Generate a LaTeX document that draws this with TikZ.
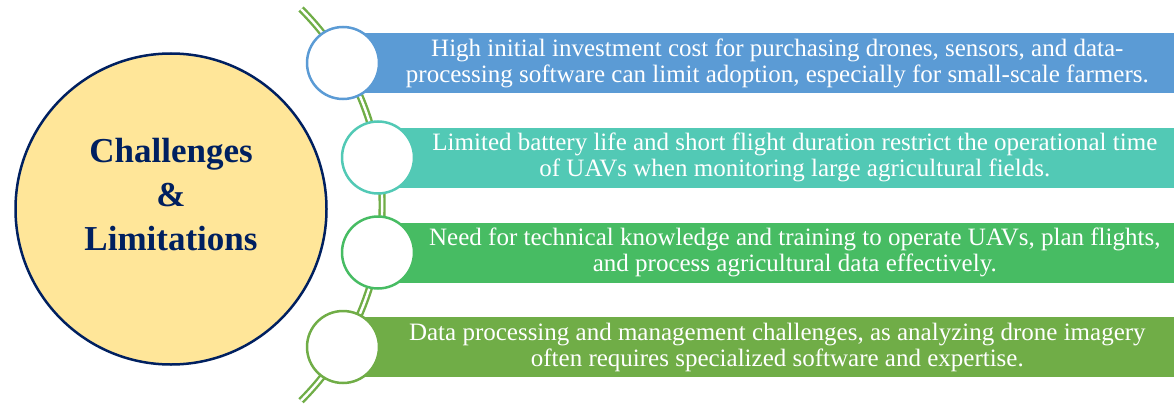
\documentclass[tikz,border=0pt]{standalone}
\usepackage{fontspec}
\setmainfont{Liberation Serif}
\usepackage{tikz}
\usetikzlibrary{calc}

\definecolor{navy}{HTML}{002060}
\definecolor{sand}{HTML}{FFE699}
\definecolor{cblue}{HTML}{5B9BD5}
\definecolor{cteal}{HTML}{52C9B5}
\definecolor{cgreen}{HTML}{47BC63}
\definecolor{cleaf}{HTML}{70AD47}

\begin{document}
\begin{tikzpicture}[x=1pt,y=-1pt,
  bigcirc/.style={circle, draw=navy, line width=2.5pt, fill=sand, minimum size=311pt, inner sep=0pt},
  dot/.style={circle, fill=white, line width=2.5pt, minimum size=72pt, inner sep=0pt},
  bar/.style={rectangle, minimum height=60pt, inner sep=0pt, anchor=west},
  spine/.style={draw=cleaf, double=white, line width=2.4pt, double distance=2.4pt},
  txt/.style={text=white, align=center, font=\fontsize{25}{26}\selectfont}]
\useasboundingbox (0,0) rectangle (1174,404);

\node[bigcirc] (main) at (171,209) {};
\node[text=navy, align=center, font=\fontsize{35}{44}\selectfont\bfseries] (title) at (171,195) {Challenges\\\&\\Limitations};

\coordinate (top) at (301,9);
\draw[spine] (top) arc[start angle=-45, end angle=45, radius=277];

\node[bar, fill=cblue, minimum width=831pt] (b1) at (343,63) {};
\node[bar, fill=cteal, minimum width=796pt] (b2) at (378,157.5) {};
\node[bar, fill=cgreen, minimum width=796pt] (b3) at (378,252.5) {};
\node[bar, fill=cleaf, minimum width=831pt] (b4) at (343,347) {};

\node[dot, draw=cblue] (d1) at (343,63) {};
\node[dot, draw=cteal] (d2) at (378,157.5) {};
\node[dot, draw=cgreen] (d3) at (378,252.5) {};
\node[dot, draw=cleaf] (d4) at (343,347) {};

\node[txt] (t1) at ($(d1.east)!0.5!(b1.east)$) {High initial investment cost for purchasing drones, sensors, and data-\\processing software can limit adoption, especially for small-scale farmers.};
\node[txt] (t2) at ($(d2.east)!0.5!(b2.east)$) {Limited battery life and short flight duration restrict the operational time\\of UAVs when monitoring large agricultural fields.};
\node[txt] (t3) at ($(d3.east)!0.5!(b3.east)$) {Need for technical knowledge and training to operate UAVs, plan flights,\\and process agricultural data effectively.};
\node[txt] (t4) at ($(d4.east)!0.5!(b4.east)$) {Data processing and management challenges, as analyzing drone imagery\\often requires specialized software and expertise.};
\end{tikzpicture}
\end{document}
